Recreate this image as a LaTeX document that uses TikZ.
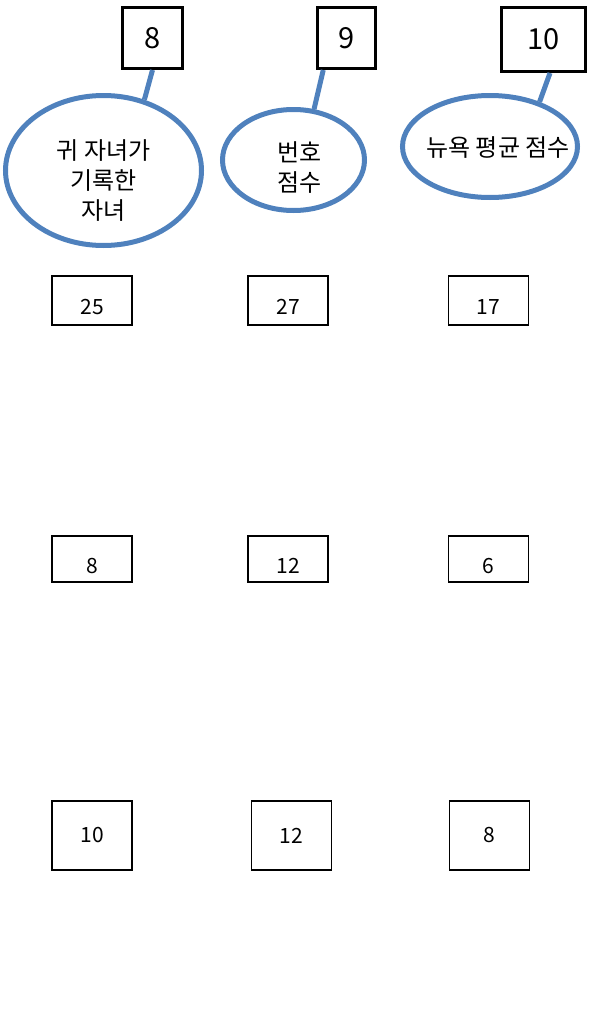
\documentclass[tikz,border=0pt]{standalone}
\usepackage{fontspec}
\setmainfont{Noto Sans CJK KR}
\usetikzlibrary{shapes.geometric}
\begin{document}
\begin{tikzpicture}[x=1pt,y=-1pt, every node/.style={font=\fontsize{21}{30}\selectfont, inner sep=0pt}]
  \definecolor{ovalBlue}{HTML}{4F81BD}
  \tikzset{
    keybox/.style={draw, line width=3pt, font=\fontsize{29}{34}\selectfont},
    oval/.style={ellipse, draw=ovalBlue, line width=5pt},
    say/.style={font=\fontsize{24}{30}\selectfont, align=center},
    cell/.style={draw, line width=1.6pt, minimum width=80},
    low/.style={text height=28pt, text depth=0pt},
    tie/.style={ovalBlue, line width=5pt}
  }
  \useasboundingbox (0,0) rectangle (589,1036);
  \node[keybox, minimum width=60, minimum height=61] (bEight) at (152.5,38) {8};
  \node[keybox, minimum width=58, minimum height=61] (bNine) at (346.5,38) {9};
  \node[keybox, minimum width=84, minimum height=64] (bTen) at (543.5,39.5) {10};
  \node[oval, minimum width=196, minimum height=150,
    label={[say, yshift=-10]center:귀 자녀가\\기록한\\자녀}] (eChild) at (103.5,170.5) {};
  \node[oval, minimum width=142, minimum height=101,
    label={[say, xshift=6, yshift=-8]center:번호\\점수}] (eNumber) at (293.5,160) {};
  \node[oval, minimum width=175, minimum height=102,
    label={[say, xshift=8, yshift=-1]center:뉴욕 평균 점수}] (eNewYork) at (490,146.5) {};
  \draw[tie] (bEight.south) -- (eChild.60);
  \draw[tie] (bNine.234) -- (eNumber.68);
  \draw[tie] (bTen.281) -- (eNewYork.42);
  \node[cell, minimum height=49, low] (vA1) at (92,300.5) {25};
  \node[cell, minimum height=49, low] (vB1) at (288,300.5) {27};
  \node[cell, minimum height=49, low] (vC1) at (488.5,300.5) {17};
  \node[cell, minimum height=46, low] (vA2) at (92,559) {8};
  \node[cell, minimum height=46, low] (vB2) at (288,559) {12};
  \node[cell, minimum height=46, low] (vC2) at (488.5,559) {6};
  \node[cell, minimum height=69] (vA3) at (92,835.5) {10};
  \node[cell, minimum height=69] (vB3) at (291.5,835.5) {12};
  \node[cell, minimum height=69] (vC3) at (489.5,835.5) {8};
\end{tikzpicture}
\end{document}
